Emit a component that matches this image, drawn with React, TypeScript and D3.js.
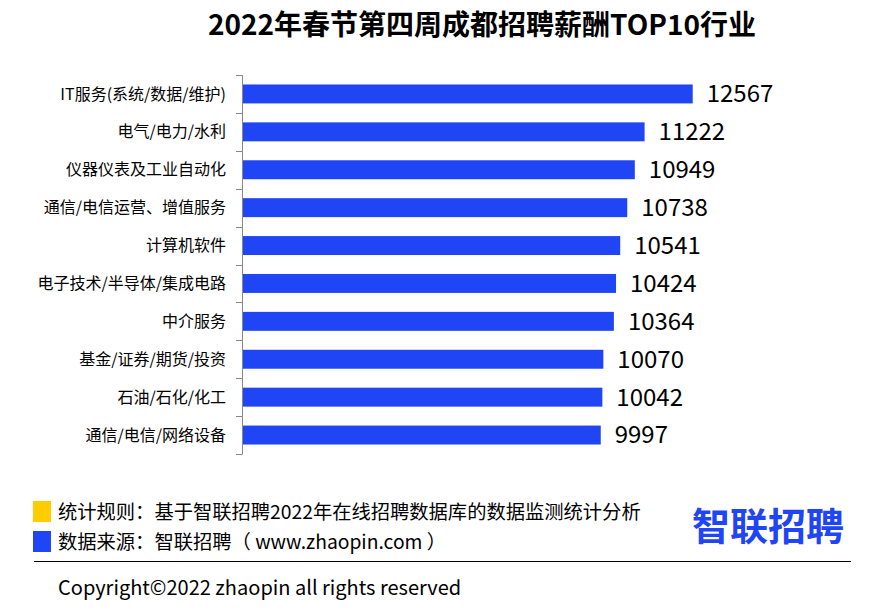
import React from "react";
import * as d3 from "d3";

const categories = [
  "IT服务(系统/数据/维护)",
  "电气/电力/水利",
  "仪器仪表及工业自动化",
  "通信/电信运营、增值服务",
  "计算机软件",
  "电子技术/半导体/集成电路",
  "中介服务",
  "基金/证券/期货/投资",
  "石油/石化/化工",
  "通信/电信/网络设备",
];
const values = [12567, 11222, 10949, 10738, 10541, 10424, 10364, 10070, 10042, 9997];

const title = "2022年春节第四周成都招聘薪酬TOP10行业";
const note1 = "统计规则：基于智联招聘2022年在线招聘数据库的数据监测统计分析";
const note2 = "数据来源：智联招聘（ www.zhaopin.com ）";
const copyright = "Copyright©2022 zhaopin all rights reserved";

const W = 887;
const H = 614;
const FONT = "'Noto Sans CJK SC', 'Noto Sans', sans-serif";
const BLUE = "#1f45f5";
const YELLOW = "#ffcc00";

export default function App() {
  const x = d3.scaleLinear().domain([0, 14000]).range([243, 744]);
  const y = d3.scaleBand<string>().domain(categories).range([75, 454]).paddingInner(0.5).paddingOuter(0.25);
  const bandAll = d3.scaleBand<string>().domain(categories).range([75, 454]);
  const ticks = categories.map((c) => bandAll(c) as number).concat([454]);

  return (
    <svg
      width={W}
      height={H}
      style={{ position: "absolute", left: 0, top: 0, background: "#fff" }}
      fontFamily={FONT}
    >
      <rect x={0} y={0} width={W} height={H} fill="#fff" />
      <text x={482} y={35} textAnchor="middle" fontSize={28} fontWeight="bold" fill="#000">
        {title}
      </text>

      {categories.map((c, i) => {
        const yy = y(c) as number;
        const bh = y.bandwidth();
        return (
          <g key={c}>
            <rect x={x(0)} y={yy} width={x(values[i]) - x(0)} height={bh} fill={BLUE} />
            <text
              x={x(values[i]) + 14}
              y={yy + bh / 2}
              dy="0.35em"
              fontSize={24}
              fill="#000"
            >
              {values[i]}
            </text>
            <text x={226} y={yy + bh / 2} dy="0.35em" textAnchor="end" fontSize={16} fill="#000">
              {c}
            </text>
          </g>
        );
      })}

      <line x1={242.5} x2={242.5} y1={75} y2={454} stroke="#888" strokeWidth={1} />
      {ticks.map((t, i) => (
        <line key={i} x1={236} x2={242.5} y1={Math.round(t) + 0.5} y2={Math.round(t) + 0.5} stroke="#888" strokeWidth={1} />
      ))}

      <rect x={33} y={501} width={18} height={21} fill={YELLOW} />
      <text x={58} y={512} dy="0.35em" fontSize={19.3} fill="#000">
        {note1}
      </text>
      <rect x={33} y={531} width={18} height={21} fill={BLUE} />
      <text x={58} y={542} dy="0.35em" fontSize={19.3} fill="#000">
        {note2}
      </text>

      <text x={692} y={540} fontSize={38} fontWeight={600} fill={BLUE}>
        智联招聘
      </text>

      <line x1={34} x2={851} y1={561.5} y2={561.5} stroke="#000" strokeWidth={1} />
      <text x={58} y={588} dy="0.35em" fontSize={20} fill="#000">
        {copyright}
      </text>
    </svg>
  );
}
